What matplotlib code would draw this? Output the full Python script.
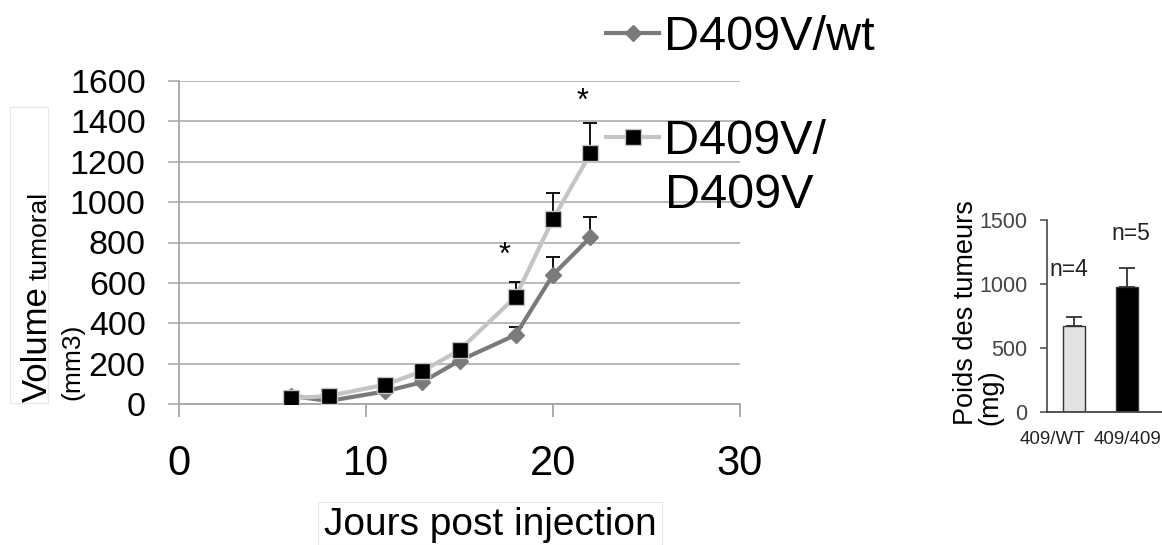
import numpy as np
import matplotlib
matplotlib.use("Agg")
import matplotlib.pyplot as plt
from matplotlib.patches import Rectangle

plt.rcParams["font.family"] = ["Liberation Sans", "DejaVu Sans"]

# --------------------------------------------------------------- données
jours = [6, 8, 11, 13, 15, 18, 20, 22]
vol_wt = [40, 15, 62, 108, 215, 342, 640, 826]
err_wt = [5, 5, 8, 10, 12, 41, 86, 101]
vol_hom = [28, 40, 95, 162, 267, 531, 916, 1241]
err_hom = [5, 6, 10, 12, 15, 72, 130, 153]
etoiles_x = [17.4, 21.6]
etoiles_y = [735, 1495]

groupes = ["409/WT", "409/409"]
poids = [668, 979]
err_poids = [76, 144]
n_txt = ["n=4", "n=5"]
n_y = [1117, 1398]

W, H = 1162, 545
fig = plt.figure(figsize=(W / 100, H / 100), dpi=100)


def px(x0, y0, x1, y1):
    # rectangle en pixels (haut-gauche origine) -> fraction figure
    return [x0 / W, 1 - y1 / H, (x1 - x0) / W, (y1 - y0) / H]


GRID = "#a6a6a6"
DARK = "#7a7a7a"
LIGHT = "#c4c4c4"

# --------------------------------------------------------------- courbe principale
ax = fig.add_axes(px(179, 81, 740, 404))
ax.set_xlim(0, 30)
ax.set_ylim(0, 1600)
ax.set_yticks(np.arange(0, 1601, 200))
ax.set_xticks([0, 10, 20, 30])
ax.yaxis.grid(True, color=GRID, lw=1.1)
ax.set_axisbelow(True)
for s in ["top", "right"]:
    ax.spines[s].set_visible(False)
for s in ["left", "bottom"]:
    ax.spines[s].set_color(GRID)
    ax.spines[s].set_linewidth(1.3)
ax.tick_params(axis="y", length=8, width=1.1, color=GRID, labelsize=24.5, pad=16)
ax.tick_params(axis="x", length=9, width=1.3, color=GRID, labelsize=30, pad=20)

z = np.zeros(len(jours))
ax.errorbar(jours, vol_wt, yerr=[z, err_wt], fmt="none", ecolor="black",
            elinewidth=1.3, capsize=5, capthick=1.3, zorder=2)
ax.errorbar(jours, vol_hom, yerr=[z, err_hom], fmt="none", ecolor="black",
            elinewidth=1.3, capsize=5, capthick=1.3, zorder=2)
l_wt, = ax.plot(jours, vol_wt, color=DARK, lw=3, marker="D", ms=8.5,
                mfc=DARK, mec=DARK, zorder=3)
l_hom, = ax.plot(jours, vol_hom, color=LIGHT, lw=3, marker="s", ms=11.5,
                 mfc="black", mec=LIGHT, mew=1, zorder=4)
for xe, ye in zip(etoiles_x, etoiles_y):
    ax.text(xe, ye, "*", fontsize=22, ha="center", va="center")

# légendes (deux blocs séparés comme sur l'original)
leg1 = ax.legend([l_wt], ["D409V/wt"], loc="center left",
                 bbox_to_anchor=(606 / W, 1 - 38 / H), bbox_transform=fig.transFigure,
                 frameon=False, fontsize=35, handlelength=1.1, handletextpad=0.1,
                 borderpad=0, borderaxespad=0, numpoints=1)
ax.add_artist(leg1)
ax.legend([l_hom], ["D409V/"], loc="center left",
          bbox_to_anchor=(606 / W, 1 - 142 / H), bbox_transform=fig.transFigure,
          frameon=False, fontsize=35, handlelength=1.1, handletextpad=0.1,
          borderpad=0, borderaxespad=0, numpoints=1)
fig.text(665 / W, 1 - 195 / H, "D409V", fontsize=35, ha="left", va="center")

# titre des axes
fig.text(47 / W, 1 - 402 / H, "Volume", fontsize=25, rotation=90,
         rotation_mode="anchor", ha="left", va="baseline")
fig.text(47 / W, 1 - 280 / H, "tumoral", fontsize=19, rotation=90,
         rotation_mode="anchor", ha="left", va="baseline")
fig.text(79 / W, 1 - 400 / H, "(mm3)", fontsize=19, rotation=90,
         rotation_mode="anchor", ha="left", va="baseline")
fig.patches.append(Rectangle((10 / W, 1 - 403 / H), 38 / W, 296 / H,
                             transform=fig.transFigure, fill=False,
                             ec="#e6e6e6", lw=0.8))
fig.text(490 / W, 1 - 525 / H, "Jours post injection", fontsize=28,
         ha="center", va="center")
fig.patches.append(Rectangle((318 / W, 0), 344 / W, 43 / H,
                             transform=fig.transFigure, fill=False,
                             ec="#e6e6e6", lw=0.8))

# --------------------------------------------------------------- encart poids
ax2 = fig.add_axes(px(1047, 220, 1162, 412))
ax2.set_xlim(-0.515, 1.655)
ax2.set_ylim(0, 1500)
ax2.bar([0, 1], poids, width=0.415, color=["#e3e3e3", "black"],
        edgecolor="#333333", lw=1, zorder=2)
ax2.errorbar([0, 1], poids, yerr=[[0, 0], err_poids], fmt="none",
             ecolor="#333333", elinewidth=1.3, capsize=6, capthick=1.3, zorder=1)
for i, (t, yy) in enumerate(zip(n_txt, n_y)):
    xx = -0.11 if i == 0 else 1.075
    ax2.text(xx, yy, t, fontsize=16.5, ha="center", va="center", color="#222222")
for s in ["top", "right"]:
    ax2.spines[s].set_visible(False)
ax2.spines["left"].set_color("#555555")
ax2.spines["left"].set_linewidth(1.3)
ax2.spines["bottom"].set_color("#444444")
ax2.spines["bottom"].set_linewidth(1.3)
ax2.set_yticks([0, 500, 1000, 1500])
ax2.tick_params(axis="y", length=5, width=1.2, color="#555555", labelsize=15.5,
                labelcolor="#444444", pad=9)
ax2.set_xticks([-0.415, 1.0], groupes)
ax2.tick_params(axis="x", length=0, labelsize=13.5, pad=14, labelcolor="#222222")
ax2.patch.set_alpha(0)
fig.text(973 / W, 1 - 425 / H, "Poids des tumeurs", fontsize=19.5, rotation=90,
         rotation_mode="anchor", ha="left", va="baseline")
fig.text(997 / W, 1 - 425 / H, "(mg)", fontsize=19.5, rotation=90,
         rotation_mode="anchor", ha="left", va="baseline")

fig.savefig("out.png", dpi=100)
